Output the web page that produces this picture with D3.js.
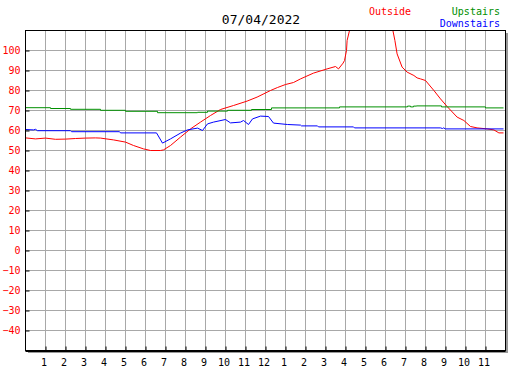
<!DOCTYPE html>
<html>
<head>
<meta charset="utf-8">
<script src="https://cdn.jsdelivr.net/npm/d3@7"></script>
<style>
  html, body { margin: 0; padding: 0; background: #fff; }
  svg { display: block; }
  text { font-family: "DejaVu Sans Mono", "Liberation Mono", monospace; }
</style>
</head>
<body>
<svg id="chart" width="527" height="370"></svg>
<script>
// ---- data ----
const title = "07/04/2022";
const seriesNames = ["Outside", "Upstairs", "Downstairs"];
const seriesColors = ["#ff0000", "#008f00", "#0000ff"];
const xTickHours = [1,2,3,4,5,6,7,8,9,10,11,12,13,14,15,16,17,18,19,20,21,22,23];
const xTickLabels = ["1","2","3","4","5","6","7","8","9","10","11","12","1","2","3","4","5","6","7","8","9","10","11"];
const yTickValues = [-40,-30,-20,-10,0,10,20,30,40,50,60,70,80,90,100];

const outsideHours = [0,0.5,1.0,1.5,2.0,2.5,3.0,3.5,3.75,4.4,5.0,5.4,5.9,6.25,6.75,6.9,7.25,7.75,8.25,8.75,9.25,9.75,10.4,11.08,11.58,12.25,12.6,13.0,13.4,13.75,14.4,15.08,15.5,15.65,15.88,15.95,16.05,16.08,16.2,16.35,16.8,17.3,17.8,18.33,18.47,18.58,18.83,19.08,19.42,19.58,19.75,20.0,20.42,20.75,21.08,21.58,21.92,22.25,22.58,23.08,23.42,23.67,23.9];
const outsideTemps = [56.3,55.8,56.2,55.6,55.7,56.0,56.2,56.3,56.2,55.3,54.2,52.5,50.8,50.0,50.0,50.3,52.5,56.7,60.8,64.2,67.5,70.5,72.5,74.7,76.7,80.0,81.5,83.0,84.0,85.8,88.7,90.8,92.0,90.8,93.7,95.0,100.0,105.0,110.0,114.0,119.0,121.0,118.0,112.0,105.0,98.3,91.7,89.2,87.5,86.3,85.8,85.0,80.0,75.8,72.0,66.7,65.0,62.0,61.3,60.8,60.3,58.8,58.8];

const upstairsHours = [0,1.25,2.25,3.75,5.0,6.6,8.6,9.1,10.1,11.3,12.3,15.7,19.1,19.25,19.4,19.55,20.8,23.0,23.9];
const upstairsTemps = [71.4,71.0,70.6,70.1,69.6,68.9,69.1,69.7,70.1,70.5,71.3,71.8,72.2,71.8,72.2,72.3,71.8,71.3,71.3];

const downstairsHours = [0,0.4,0.5,0.6,2.25,2.3,4.7,4.75,6.55,6.85,7.25,7.75,8.1,8.6,8.85,9.1,9.4,10.0,10.25,10.75,10.9,11.15,11.35,11.75,12.15,12.4,13.1,13.75,13.8,14.6,14.65,16.4,16.45,20.75,20.85,20.9,21.0,23.9];
const downstairsTemps = [60.5,60.3,60.6,59.9,59.9,59.4,59.4,58.8,58.8,53.7,55.8,58.7,60.3,61.2,60.0,63.3,64.2,65.5,63.8,64.2,65.0,63.0,65.8,67.2,67.0,63.7,63.0,62.7,62.3,62.3,61.8,61.8,61.3,61.3,61.0,61.3,60.8,60.8];

// ---- drawing ----
const svg = d3.select("#chart");
const L = 25, T = 30, R = 505, B = 350;
const x = d3.scaleLinear().domain([0, 24]).range([L, R]);
const y = d3.scaleLinear().domain([-50, 110]).range([B, T]);

// shadow
svg.append("rect").attr("x", L + 3).attr("y", T + 3).attr("width", R - L).attr("height", B - T).attr("fill", "#999");
svg.append("rect").attr("x", L).attr("y", T).attr("width", R - L).attr("height", B - T).attr("fill", "#fff");

const g = svg.append("g").attr("transform", "translate(0.5,0.5)");

// grid
g.append("g").selectAll("line").data(xTickHours).join("line")
  .attr("x1", d => x(d)).attr("x2", d => x(d)).attr("y1", T).attr("y2", B)
  .attr("stroke", "#a8a8a8").attr("stroke-width", 1);
g.append("g").selectAll("line").data(yTickValues).join("line")
  .attr("x1", L).attr("x2", R).attr("y1", d => y(d)).attr("y2", d => y(d))
  .attr("stroke", "#a8a8a8").attr("stroke-width", 1);

// clip
svg.append("clipPath").attr("id", "clip").append("rect")
  .attr("x", L).attr("y", T).attr("width", R - L).attr("height", B - T);

const lines = [
  [outsideHours, outsideTemps],
  [upstairsHours, upstairsTemps],
  [downstairsHours, downstairsTemps]
];
const lineGen = d3.line().x(d => x(d[0])).y(d => y(d[1]));
const stepGen = d3.line().x(d => x(d[0])).y(d => y(d[1])).curve(d3.curveStepAfter);
const lg = g.append("g").attr("clip-path", "url(#clip)");
lines.forEach((s, i) => {
  const pts = s[0].map((h, k) => [h, s[1][k]]);
  lg.append("path").datum(pts)
    .attr("d", i === 1 ? stepGen : lineGen)
    .attr("fill", "none").attr("stroke", seriesColors[i]).attr("stroke-width", 1);
});

// border
g.append("rect").attr("x", L).attr("y", T).attr("width", R - L).attr("height", B - T)
  .attr("fill", "none").attr("stroke", "#000").attr("stroke-width", 1);
g.append("line").attr("x1", L).attr("x2", R).attr("y1", B + 1).attr("y2", B + 1).attr("stroke", "#000");

// axes
const yAxis = d3.axisLeft(y).tickValues(yTickValues).tickSize(-4).tickPadding(5);
const ya = g.append("g").attr("transform", `translate(${L},0)`).call(yAxis);
ya.select(".domain").remove();
ya.selectAll(".tick line").attr("stroke", "#000");
ya.selectAll(".tick text").attr("fill", "#ff0000").attr("font-size", 10)
  .attr("font-family", "DejaVu Sans Mono");

const xAxis = d3.axisBottom(x).tickValues(xTickHours).tickSize(-4).tickPadding(8)
  .tickFormat((d, i) => xTickLabels[i]);
const xa = g.append("g").attr("transform", `translate(0,${B})`).call(xAxis);
xa.select(".domain").remove();
xa.selectAll(".tick line").attr("stroke", "#000");
xa.selectAll(".tick text").attr("fill", "#000").attr("font-size", 10).attr("dx", -2)
  .attr("font-family", "DejaVu Sans Mono");

// title
svg.append("text").attr("x", 261).attr("y", 24).attr("text-anchor", "middle")
  .attr("font-size", 13).attr("fill", "#000").text(title);

// legend
svg.append("text").attr("x", 369).attr("y", 15).attr("font-size", 10).attr("fill", seriesColors[0]).text(seriesNames[0]);
svg.append("text").attr("x", 500).attr("y", 15).attr("text-anchor", "end").attr("font-size", 10).attr("fill", seriesColors[1]).text(seriesNames[1]);
svg.append("text").attr("x", 500).attr("y", 27).attr("text-anchor", "end").attr("font-size", 10).attr("fill", seriesColors[2]).text(seriesNames[2]);
</script>
</body>
</html>
